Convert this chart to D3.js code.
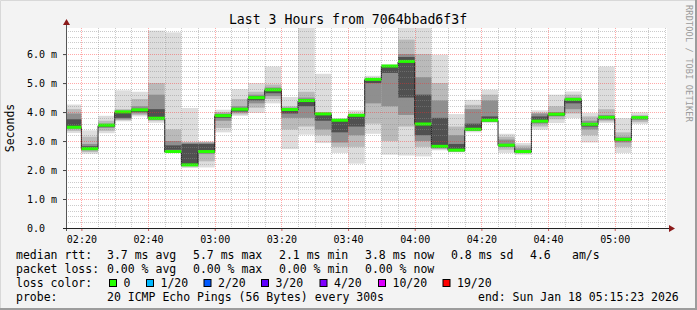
<!DOCTYPE html>
<html>
<head>
<meta charset="utf-8">
<script src="https://cdn.jsdelivr.net/npm/d3@7/dist/d3.min.js"></script>
<style>
body { margin: 0; background: #f3f3f3; }
svg { display: block; }
text { font-family: "DejaVu Sans Mono", monospace; fill: #000; }
</style>
</head>
<body>
<div id="chart"></div>
<script>
// 5 minute steps, start time of each bar
const slots = ["02:15","02:20","02:25","02:30","02:35","02:40","02:45","02:50","02:55",
    "03:00","03:05","03:10","03:15","03:20","03:25","03:30","03:35","03:40","03:45","03:50","03:55",
    "04:00","04:05","04:10","04:15","04:20","04:25","04:30","04:35","04:40","04:45","04:50","04:55",
    "05:00","05:05"]

// median rtt in ms
const medians = [3.46,2.72,3.53,3.99,4.06,3.77,2.62,2.16,2.62,3.86,4.08,4.48,4.75,4.07,4.38,3.92,3.70,3.87,
    5.11,5.57,5.73,3.57,2.80,2.67,3.39,3.70,2.84,2.62,3.67,3.91,4.42,3.56,3.80,3.04,3.79]

// smoke bands, outermost ping pair first (ms)
const smokeOuter = [[3.28,4.26],[2.56,3.37],[3.27,3.87],[3.68,4.75],[3.85,4.70],[3.63,6.81],[2.59,6.75],[2.07,4.14],
    [2.09,2.99],[3.30,4.08],[3.87,4.79],[3.97,5.00],[4.30,5.57],[2.72,4.52],[3.22,6.90],[2.93,5.32],[2.59,3.79],
    [2.22,4.06],[3.25,5.25],[2.53,5.65],[2.50,6.93],[2.47,6.93],[2.68,5.98],[2.61,3.93],[3.30,4.42],[3.62,4.77],
    [2.59,3.25],[2.53,2.93],[3.39,4.06],[3.62,4.60],[3.79,4.71],[2.95,3.97],[3.62,5.57],[2.59,3.79],[3.59,3.99]]
const smokeMid = [[3.35,4.10],[2.62,3.15],[3.35,3.70],[3.72,4.10],[3.90,4.45],[3.70,5.00],[2.62,3.40],[2.12,2.95],
    [2.30,2.95],[3.45,4.00],[3.92,4.45],[4.15,4.70],[4.45,4.95],[3.40,4.20],[3.50,4.70],[3.20,4.00],[2.80,3.75],
    [2.80,3.95],[3.60,5.18],[3.00,5.60],[3.50,6.50],[2.80,6.00],[2.72,5.00],[2.63,3.50],[3.35,4.25],[3.66,4.60],
    [2.70,3.15],[2.57,2.85],[3.50,3.98],[3.75,4.20],[3.95,4.60],[3.20,3.85],[3.68,4.10],[2.80,3.30],[3.65,3.90]]
const smokeInner = [[3.45,3.95],[2.68,2.90],[3.45,3.60],[3.75,4.05],[3.95,4.20],[3.75,4.60],[2.65,3.00],[2.15,2.95],
    [2.55,2.95],[3.70,3.95],[3.98,4.20],[4.30,4.60],[4.55,4.85],[3.80,4.15],[3.80,4.50],[3.40,3.95],[2.95,3.72],
    [3.20,3.92],[4.30,5.15],[4.20,5.58],[3.90,6.00],[3.00,5.20],[2.75,4.40],[2.65,3.20],[3.37,4.10],[3.68,4.40],
    [2.80,3.05],[2.60,2.75],[3.60,3.95],[3.85,4.00],[4.10,4.50],[3.40,3.70],[3.73,3.90],[2.95,3.15],[3.72,3.85]]
const smokeCore = [[3.50,3.75],[2.72,2.82],[3.50,3.56],[3.80,4.00],[4.00,4.10],[3.80,4.10],[2.70,2.85],[2.18,2.90],
    [2.60,2.90],[3.80,3.92],[4.02,4.12],[4.40,4.55],[4.65,4.80],[3.95,4.10],[4.20,4.45],[3.70,3.95],[3.30,3.72],
    [3.50,3.90],[5.00,5.13],[5.35,5.58],[4.50,5.90],[3.20,4.60],[2.77,3.80],[2.66,2.90],[3.38,3.60],[3.69,3.85],
    [2.82,2.90],[2.61,2.66],[3.65,3.85],[3.88,3.96],[4.30,4.46],[3.50,3.62],[3.77,3.84],[3.00,3.08],[3.76,3.82]]

const yTicks = [0, 1, 2, 3, 4, 5, 6]

const statRows = [
    ["median rtt:", "3.7 ms avg", "5.7 ms max", "2.1 ms min", "3.8 ms now", "0.8 ms sd", "4.6", "am/s"],
    ["packet loss:", "0.00 % avg", "0.00 % max", "0.00 % min", "0.00 % now"]
]
const lossLabels = ["0", "1/20", "2/20", "3/20", "4/20", "10/20", "19/20"]
const lossColors = ["#26ff00", "#00b8ff", "#0059ff", "#5e00ff", "#7e00ff", "#dd00ff", "#ff0000"]
const probeText = "20 ICMP Echo Pings (56 Bytes) every 300s"
const endText = "end: Sun Jan 18 05:15:23 2026"

const W = 697, H = 310
const margin = {left: 66, top: 28, right: 31, bottom: 82}
const plotW = W - margin.left - margin.right
const plotH = H - margin.top - margin.bottom

const parseT = d3.timeParse("%Y-%m-%d %H:%M:%S")
const tStart = parseT("2026-01-18 02:15:23")
const tEnd = parseT("2026-01-18 05:15:23")

const x = d3.scaleTime().domain([tStart, tEnd]).range([margin.left, margin.left + plotW])
const y = d3.scaleLinear().domain([0, 6.9]).range([margin.top + plotH, margin.top])

const svg = d3.select("#chart").append("svg")
    .attr("width", W)
    .attr("height", H)

// background + frame
svg.append("rect").attr("width", W).attr("height", H).attr("fill", "#f3f3f3")
svg.append("path").attr("d", `M0.5,${H} V0.5 H${W}`).attr("fill", "none").attr("stroke", "#d8d8d8")
svg.append("path").attr("d", `M0,${H - 1} H${W - 1} V0`).attr("fill", "none").attr("stroke", "#9c9c9c").attr("stroke-width", 2)

svg.append("rect")
    .attr("x", margin.left).attr("y", margin.top)
    .attr("width", plotW + 1).attr("height", plotH)
    .attr("fill", "#fff")

svg.append("defs").append("clipPath").attr("id", "plotclip")
    .append("rect")
    .attr("x", margin.left).attr("y", margin.top)
    .attr("width", plotW).attr("height", plotH)

const parseSlot = s => parseT("2026-01-18 " + s + ":00")
const bars = slots.map((s, i) => {
    let t0 = parseSlot(s)
    return {
        t0: t0,
        t1: d3.timeMinute.offset(t0, 5),
        med: medians[i],
        bands: [smokeOuter[i], smokeMid[i], smokeInner[i], smokeCore[i]]
    }
})

const shades = ["#dddddd", "#bababa", "#8f8f8f", "#505050"]

const plot = svg.append("g").attr("clip-path", "url(#plotclip)")

// smoke
shades.forEach((c, k) => {
    plot.append("g").selectAll("rect")
        .data(bars)
        .join("rect")
        .attr("x", d => x(d.t0))
        .attr("width", d => x(d.t1) - x(d.t0))
        .attr("y", d => y(d.bands[k][1]))
        .attr("height", d => y(d.bands[k][0]) - y(d.bands[k][1]))
        .attr("fill", c)
})

// median step line
let stepLine = d3.line()
    .x(d => x(d[0]))
    .y(d => y(d[1]))
    .curve(d3.curveStepAfter)
let stepPts = bars.map(d => [d.t0, d.med])
stepPts.push([bars[bars.length - 1].t1, bars[bars.length - 1].med])
plot.append("path")
    .attr("d", stepLine(stepPts))
    .attr("fill", "none")
    .attr("stroke", "#202020")
    .attr("stroke-width", 1)

plot.append("g").selectAll("rect")
    .data(bars)
    .join("rect")
    .attr("x", d => x(d.t0))
    .attr("width", d => x(d.t1) - x(d.t0))
    .attr("y", d => y(d.med) - 2)
    .attr("height", 3)
    .attr("fill", lossColors[0])

// grid, drawn on top like rrdtool does
const grid = svg.append("g").attr("shape-rendering", "crispEdges")
const minorY = d3.range(0, 6.9, 0.2).filter(v => Math.abs(v - Math.round(v)) > 0.01)
grid.selectAll(".hminor")
    .data(minorY)
    .join("line")
    .attr("x1", margin.left).attr("x2", margin.left + plotW)
    .attr("y1", d => Math.round(y(d)) + 0.5).attr("y2", d => Math.round(y(d)) + 0.5)
    .attr("stroke", "rgba(140,140,140,0.45)")
    .attr("stroke-dasharray", "1,1")

const minorX = d3.timeMinute.every(5).range(tStart, tEnd).filter(t => t.getMinutes() % 20 !== 0)
grid.selectAll(".vminor")
    .data(minorX)
    .join("line")
    .attr("x1", d => Math.round(x(d)) + 0.5).attr("x2", d => Math.round(x(d)) + 0.5)
    .attr("y1", margin.top).attr("y2", margin.top + plotH)
    .attr("stroke", "rgba(140,140,140,0.45)")
    .attr("stroke-dasharray", "1,1")

grid.selectAll(".hmajor")
    .data(yTicks.slice(1))
    .join("line")
    .attr("x1", margin.left).attr("x2", margin.left + plotW)
    .attr("y1", d => Math.round(y(d)) + 0.5).attr("y2", d => Math.round(y(d)) + 0.5)
    .attr("stroke", "rgba(255,40,40,0.4)")
    .attr("stroke-dasharray", "1,1")

const majorX = d3.timeMinute.every(20).range(tStart, tEnd)
grid.selectAll(".vmajor")
    .data(majorX)
    .join("line")
    .attr("x1", d => Math.round(x(d)) + 0.5).attr("x2", d => Math.round(x(d)) + 0.5)
    .attr("y1", margin.top).attr("y2", margin.top + plotH)
    .attr("stroke", "rgba(255,40,40,0.4)")
    .attr("stroke-dasharray", "1,1")

// axes
const yAxis = d3.axisLeft(y)
    .tickValues(yTicks)
    .tickSize(3)
    .tickPadding(6)
    .tickFormat(v => v === 0 ? "0.0  " : d3.format(".1f")(v) + " m")
const gy = svg.append("g")
    .attr("transform", `translate(${margin.left},0)`)
    .call(yAxis)
gy.select(".domain").remove()
gy.selectAll("text").attr("font-size", "10px").attr("font-family", "DejaVu Sans Mono").attr("xml:space", "preserve")
gy.selectAll("line").attr("stroke", "#444")

const xAxis = d3.axisBottom(x)
    .tickValues(majorX)
    .tickSize(3)
    .tickPadding(5)
    .tickFormat(d3.timeFormat("%H:%M"))
const gx = svg.append("g")
    .attr("transform", `translate(0,${margin.top + plotH})`)
    .call(xAxis)
gx.select(".domain").remove()
gx.selectAll("text").attr("font-size", "10px").attr("font-family", "DejaVu Sans Mono")
gx.selectAll("line").attr("stroke", "#d06060")

svg.append("line")
    .attr("x1", margin.left + 0.5).attr("x2", margin.left + 0.5)
    .attr("y1", margin.top + plotH + 3).attr("y2", margin.top - 4)
    .attr("stroke", "#555")
svg.append("line")
    .attr("x1", margin.left - 3).attr("x2", margin.left + plotW + 3)
    .attr("y1", margin.top + plotH + 0.5).attr("y2", margin.top + plotH + 0.5)
    .attr("stroke", "#222")
svg.append("path")
    .attr("d", `M${margin.left - 3},${margin.top - 3} L${margin.left + 4},${margin.top - 3} L${margin.left + 0.5},${margin.top - 9} Z`)
    .attr("fill", "#8b1a1a")
svg.append("path")
    .attr("d", `M${margin.left + plotW + 3},${margin.top + plotH - 3} L${margin.left + plotW + 3},${margin.top + plotH + 4} L${margin.left + plotW + 9},${margin.top + plotH + 0.5} Z`)
    .attr("fill", "#8b1a1a")

// title, axis label, watermark
svg.append("text")
    .attr("x", 348).attr("y", 24)
    .attr("text-anchor", "middle")
    .attr("font-size", "13.2px")
    .text("Last 3 Hours from 7064bbad6f3f")

svg.append("text")
    .attr("transform", `translate(14,${margin.top + plotH / 2}) rotate(-90)`)
    .attr("text-anchor", "middle")
    .attr("font-size", "11.5px")
    .text("Seconds")

svg.append("text")
    .attr("transform", `translate(686,5) rotate(90)`)
    .attr("font-size", "8.5px")
    .attr("letter-spacing", "0.2px")
    .style("fill", "#9a9a9a")
    .text("RRDTOOL / TOBI OETIKER")

// legend
const legX = [16, 107, 193, 279, 365, 451, 530, 572]
const rowY = [259, 273, 287, 301]
statRows.forEach((row, r) => {
    svg.append("g").selectAll("text")
        .data(row)
        .join("text")
        .attr("x", (d, i) => legX[i])
        .attr("y", rowY[r])
        .attr("font-size", "11.5px")
        .text(d => d)
})

svg.append("text").attr("x", 16).attr("y", rowY[2]).attr("font-size", "11.5px").text("loss color:")
const swatchX = [109, 146, 203.5, 261, 319.5, 378, 442.5]
const lg = svg.append("g").selectAll("g")
    .data(lossLabels)
    .join("g")
    .attr("transform", (d, i) => `translate(${swatchX[i]},${rowY[2] - 8})`)
lg.append("rect")
    .attr("x", 0.5).attr("y", 0.5)
    .attr("width", 7).attr("height", 7)
    .attr("fill", (d, i) => lossColors[i])
    .attr("stroke", "#000")
lg.append("text")
    .attr("x", 14.5).attr("y", 8)
    .attr("font-size", "11.5px")
    .text(d => d)

svg.append("text").attr("x", 16).attr("y", rowY[3]).attr("font-size", "11.5px").text("probe:")
svg.append("text").attr("x", 107).attr("y", rowY[3]).attr("font-size", "11.5px").text(probeText)
svg.append("text").attr("x", 478).attr("y", rowY[3]).attr("font-size", "11.5px").text(endText)
</script>
</body>
</html>
